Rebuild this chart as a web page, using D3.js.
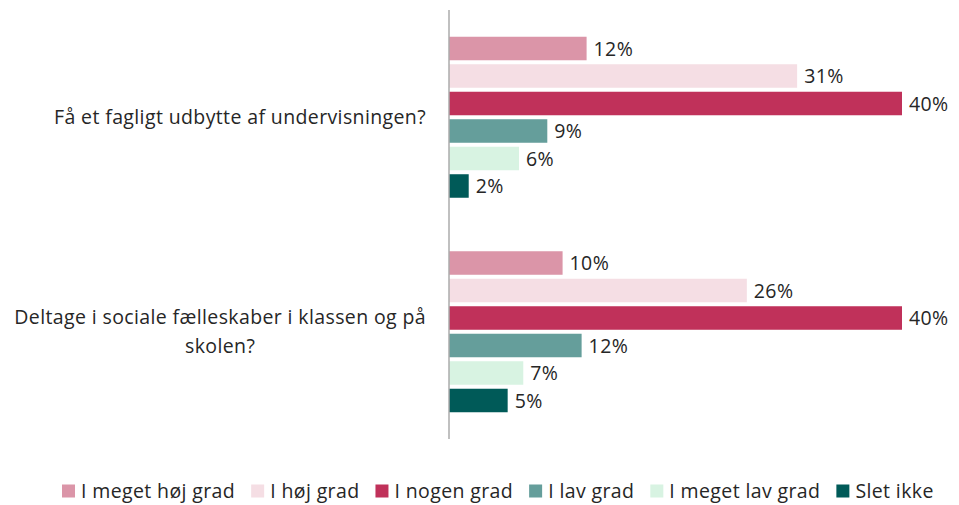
<!DOCTYPE html>
<html>
<head>
<meta charset="utf-8">
<script src="https://cdn.jsdelivr.net/npm/d3@7"></script>
<style>
body { margin: 0; background: #fff; }
text { font-family: "Open Sans", "Noto Sans", sans-serif; fill: #262626; font-size: 19.5px; letter-spacing: 0.38px; }
</style>
</head>
<body>
<svg id="chart" width="959" height="505"></svg>
<script>
var WIDTH = 959;
var HEIGHT = 505;

// categories (question texts, already split in lines as in the picture)
var questions = [
	["Få et fagligt udbytte af undervisningen?"],
	["Deltage i sociale fælleskaber i klassen og på", "skolen?"]
];
var series = ["I meget høj grad", "I høj grad", "I nogen grad", "I lav grad", "I meget lav grad", "Slet ikke"];
var colors = ["#DB95A8", "#F5DEE4", "#C0315A", "#659E9B", "#D8F3E2", "#005A58"];
// share of answers per series, one value per question
var values = [
	[0.1215, 0.1003],
	[0.3074, 0.263],
	[0.40, 0.40],
	[0.0868, 0.1171],
	[0.0618, 0.0656],
	[0.0174, 0.0518]
];

var svg = d3.select("#chart");

var x = d3.scaleLinear()
	.domain([0, 0.40])
	.range([449, 902]);

var y0 = d3.scaleBand()
	.domain(d3.range(questions.length))
	.range([10, 439]);

var y1 = d3.scaleBand()
	.domain(d3.range(series.length))
	.range([26.75, y0.bandwidth() - 26.75])
	.paddingInner(0.145);

var fmt = d3.format(".0%");

// bars
for (var s = 0; s < series.length; s++)
{
	var g = svg.append("g");
	g.selectAll("rect")
		.data(values[s])
		.enter().append("rect")
		.attr("x", x(0))
		.attr("y", function(d, i){ return y0(i) + y1(s); })
		.attr("width", function(d){ return x(d) - x(0); })
		.attr("height", y1.bandwidth())
		.attr("fill", colors[s]);

	g.selectAll("text")
		.data(values[s])
		.enter().append("text")
		.attr("x", function(d){ return x(d) + 7; })
		.attr("y", function(d, i){ return y0(i) + y1(s) + y1.bandwidth() / 2; })
		.attr("dy", "0.36em")
		.text(function(d){ return fmt(d); });
}

// axis line
svg.append("line")
	.attr("x1", x(0)).attr("x2", x(0))
	.attr("y1", y0.range()[0]).attr("y2", y0.range()[1])
	.attr("stroke", "#ABABAB")
	.attr("stroke-width", 1.5);

// category labels, right aligned, wrapped lines centred on each other
questions.forEach(function(lines, i)
{
	var lh = 29;
	var cy = y0(i) + y0.bandwidth() / 2;
	var top = cy - (lines.length - 1) * lh / 2;
	var first = svg.append("text")
		.attr("x", 426)
		.attr("y", top)
		.attr("dy", "0.36em")
		.attr("text-anchor", "end")
		.text(lines[0]);
	var w = first.node().getComputedTextLength();
	for (var k = 1; k < lines.length; k++)
	{
		svg.append("text")
			.attr("x", 426 - w / 2)
			.attr("y", top + k * lh)
			.attr("dy", "0.36em")
			.attr("text-anchor", "middle")
			.text(lines[k]);
	}
});

// legend
var legend = svg.append("g").attr("transform", "translate(62,491)");
var lx = 0;
series.forEach(function(name, i)
{
	var item = legend.append("g").attr("transform", "translate(" + lx + ",0)");
	item.append("rect")
		.attr("x", 0).attr("y", -6.5)
		.attr("width", 13).attr("height", 13)
		.attr("fill", colors[i]);
	var t = item.append("text")
		.attr("x", 19)
		.attr("y", 0)
		.attr("dy", "0.36em")
		.text(name);
	lx += 19 + t.node().getComputedTextLength() + 16;
});
</script>
</body>
</html>
